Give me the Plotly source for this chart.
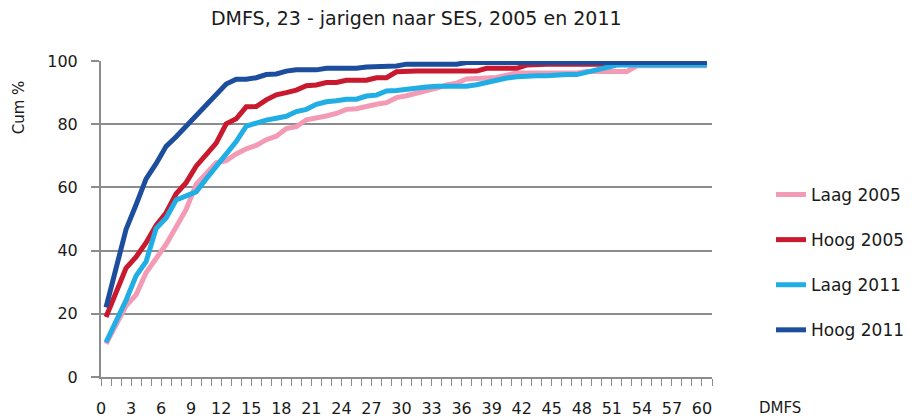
import plotly.graph_objects as go
import numpy as np

dmfs = list(range(61))

laag_2005 = [10.5, 16.5, 22.5, 26.0, 33.0, 37.5, 42.0, 47.5, 53.0, 61.0,
             64.5, 67.8, 68.5, 70.6, 72.2, 73.3, 75.1, 76.2, 78.6, 79.2,
             81.4, 81.9, 82.6, 83.4, 84.7, 84.9, 85.8, 86.3, 86.8, 88.4,
             89.0, 89.7, 90.6, 91.4, 92.4, 93.0, 94.3, 94.5, 94.6, 94.8,
             95.5, 96.2, 96.2, 96.2, 96.2, 96.2, 96.2, 96.2, 96.7, 96.7,
             96.7, 96.7, 96.7, 98.5, 98.5, 98.5, 98.5, 98.5, 98.5, 98.5,
             98.5]
hoog_2005 = [19.0, 26.5, 34.5, 38.0, 42.5, 48.0, 52.0, 58.0, 61.5, 66.7,
             70.1, 74.0, 80.1, 81.7, 85.5, 85.6, 87.7, 89.3, 90.0, 90.8,
             92.2, 92.4, 93.2, 93.2, 93.9, 93.9, 93.9, 94.7, 94.7, 96.6,
             96.8, 96.8, 96.8, 96.8, 96.8, 96.8, 96.8, 96.8, 97.7, 97.7,
             97.7, 97.7, 98.7, 99.0, 99.0, 99.0, 99.0, 99.0, 99.0, 99.0,
             99.0, 99.5, 99.5, 99.5, 99.5, 99.5, 99.5, 99.5, 99.5, 99.5,
             99.5]
laag_2011 = [11.0, 17.5, 24.3, 32.0, 36.5, 47.0, 50.3, 56.0, 57.1, 58.6,
             62.7, 66.8, 70.4, 74.5, 79.4, 80.5, 81.3, 81.9, 82.5, 84.0,
             84.7, 86.3, 87.1, 87.4, 87.9, 87.9, 88.9, 89.2, 90.5, 90.7,
             91.2, 91.5, 91.8, 92.0, 92.0, 92.0, 92.0, 92.5, 93.3, 94.0,
             94.6, 95.0, 95.3, 95.3, 95.3, 95.7, 95.7, 95.7, 96.5, 97.3,
             98.2, 98.7, 98.7, 98.7, 98.7, 98.7, 98.7, 98.7, 98.7, 98.7,
             98.7]
hoog_2011 = [22.0, 34.5, 46.7, 54.5, 62.7, 67.5, 73.0, 76.0, 79.3, 82.6,
             86.2, 89.1, 92.7, 94.2, 94.2, 94.7, 95.7, 95.9, 96.8, 97.2,
             97.2, 97.2, 97.7, 97.7, 97.7, 97.7, 98.1, 98.1, 98.1, 98.4,
             99.0, 99.0, 99.0, 99.0, 99.0, 99.0, 99.5, 99.5, 99.5, 99.5,
             99.5, 99.5, 99.5, 99.5, 99.5, 99.5, 99.5, 99.5, 99.5, 99.5,
             99.5, 99.5, 99.5, 99.5, 99.5, 99.5, 99.5, 99.5, 99.5, 99.5,
             99.5]

series_names = ["Laag 2005", "Hoog 2005", "Laag 2011", "Hoog 2011"]
series_values = [laag_2005, hoog_2005, laag_2011, hoog_2011]
series_colors = ["#F39BB5", "#C8192E", "#20AEE5", "#1D4E9D"]

x_tick_labels = list(range(0, 61, 3))
y_tick_labels = [0, 20, 40, 60, 80, 100]

FONT = "DejaVu Sans"
GRID = "#8C8C8C"

fig = go.Figure()
for name, vals, col in zip(series_names, series_values, series_colors):
    fig.add_trace(go.Scatter(
        x=dmfs, y=vals, name=name, mode="lines",
        line=dict(color=col, width=5),
        legendgroup=name,
    ))

fig.update_layout(
    width=907, height=412,
    margin=dict(l=93, r=203, t=53, b=43, autoexpand=False),
    paper_bgcolor="white", plot_bgcolor="white",
    font=dict(family=FONT, size=16, color="#1a1a1a"),
    title=dict(text="DMFS, 23 - jarigen naar SES, 2005 en 2011",
               font=dict(family=FONT, size=19, color="#1a1a1a"),
               xref="paper", x=0.516, xanchor="center",
               yref="container", y=0.975, yanchor="middle"),
    showlegend=True,
    legend=dict(x=1.0966, xanchor="left", y=0.633, yanchor="top",
                font=dict(family=FONT, size=17, color="#1a1a1a"),
                tracegroupgap=20, bgcolor="rgba(0,0,0,0)"),
    xaxis=dict(range=[-0.5, 60.5], tickmode="array", tickvals=x_tick_labels,
               ticktext=[str(v) for v in x_tick_labels],
               ticks="", showgrid=False, zeroline=False, automargin=False,
               showline=True, linecolor=GRID, linewidth=2,
               ticklabelshift=-5, ticklabelstandoff=16,
               tickfont=dict(family=FONT, size=16, color="#1a1a1a"),
               minor=dict(tickmode="linear", tick0=-0.5, dtick=1,
                          ticks="outside", ticklen=7, tickwidth=1,
                          tickcolor=GRID, showgrid=False)),
    yaxis=dict(range=[0, 100], tickmode="array", tickvals=y_tick_labels,
               ticks="outside", ticklen=8, tickwidth=2, tickcolor=GRID,
               showgrid=True, gridcolor=GRID, gridwidth=2, automargin=False,
               zeroline=False, showline=True, linecolor=GRID, linewidth=2,
               ticklabelstandoff=10,
               tickfont=dict(family=FONT, size=16, color="#1a1a1a")),
    annotations=[
        dict(text="Cum %", xref="paper", yref="paper",
             x=-0.134, y=0.854, xanchor="center", yanchor="middle",
             textangle=-90, showarrow=False,
             font=dict(family=FONT, size=15, color="#1a1a1a")),
        dict(text="DMFS", xref="paper", yref="paper",
             x=1.111, y=-0.098, xanchor="center", yanchor="middle",
             showarrow=False,
             font=dict(family=FONT, size=15, color="#1a1a1a")),
    ],
)

fig.write_html("out.html")
